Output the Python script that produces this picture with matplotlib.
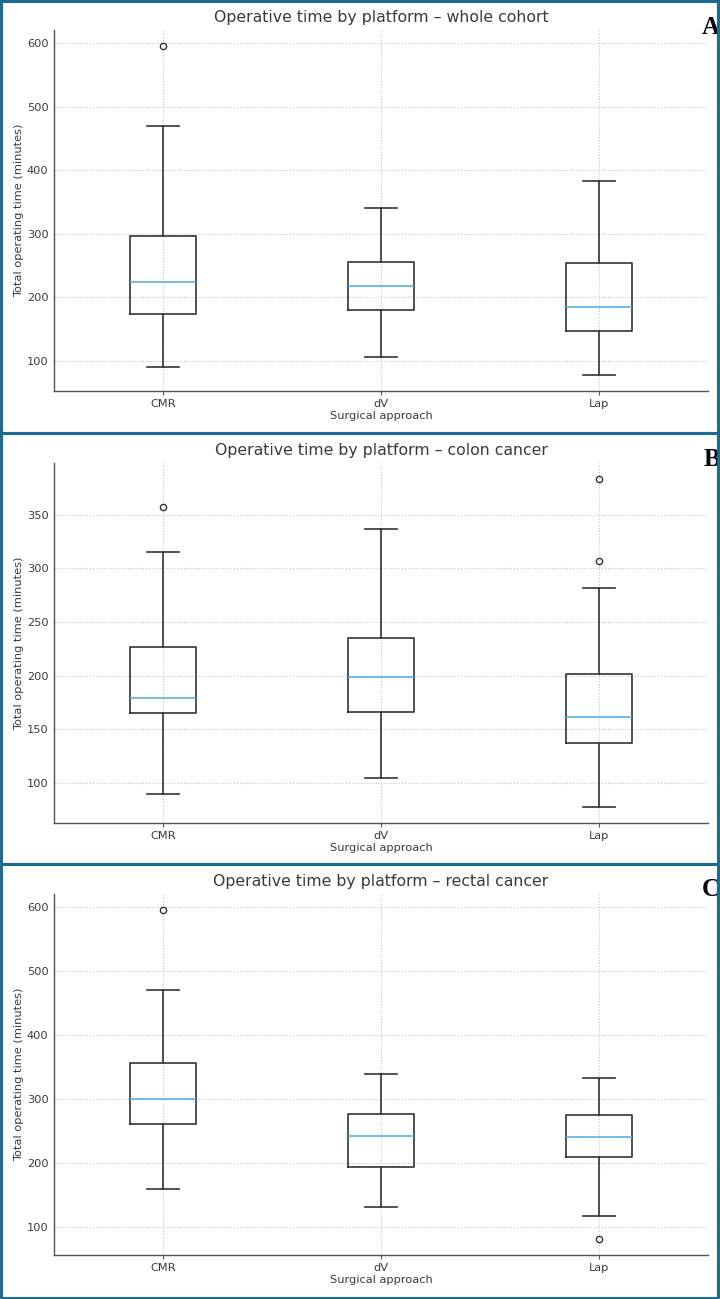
import matplotlib
matplotlib.use("Agg")
import matplotlib.pyplot as plt
from matplotlib.patches import Rectangle

categories = ["CMR", "dV", "Lap"]
panel_titles = ["Operative time by platform – whole cohort",
                "Operative time by platform – colon cancer",
                "Operative time by platform – rectal cancer"]
panel_letters = ["A", "B", "C"]

# five-number summaries per category: [low whisker, Q1, median, Q3, high whisker]
whole_stats = [[90, 174, 224, 296, 470], [105, 180, 217, 256, 340], [78, 147, 185, 254, 383]]
whole_fliers = [[595], [], []]
colon_stats = [[90, 165, 179, 227, 315], [105, 166, 199, 235, 337], [78, 137, 162, 202, 282]]
colon_fliers = [[357], [], [383, 307]]
rectal_stats = [[160, 261, 300, 357, 471], [131, 194, 242, 277, 340], [118, 209, 241, 275, 333]]
rectal_fliers = [[595], [], [82]]

all_stats = [whole_stats, colon_stats, rectal_stats]
all_fliers = [whole_fliers, colon_fliers, rectal_fliers]

W, H = 720, 1299
fig = plt.figure(figsize=(W / 100, H / 100), dpi=100)

text_c = "#3a3a3a"
frame_c = "#1f6a93"
median_c = "#5aaee8"
box_c = "#333333"

# axes boxes in pixels: (left, top, right, bottom)
ax_px = [(54, 30, 708, 391), (54, 463, 708, 823), (54, 894, 708, 1255)]
frames_px = [(1, 1, 717.5, 433), (1, 433, 717.5, 864), (1, 864, 717.5, 1298)]
letter_px = [(720, 27), (720, 459), (720, 889)]

for i in range(3):
    l, t, r, b = ax_px[i]
    ax = fig.add_axes([l / W, 1 - b / H, (r - l) / W, (b - t) / H])
    stats = []
    for s, f, lab in zip(all_stats[i], all_fliers[i], categories):
        stats.append(dict(whislo=s[0], q1=s[1], med=s[2], q3=s[3], whishi=s[4],
                          fliers=f, label=lab))
    ax.bxp(stats, positions=[1, 2, 3], widths=0.3,
           boxprops=dict(color=box_c, linewidth=1.2),
           whiskerprops=dict(color=box_c, linewidth=1.2),
           capprops=dict(color=box_c, linewidth=1.2),
           medianprops=dict(color=median_c, linewidth=1.2),
           flierprops=dict(marker="o", markerfacecolor="none", markeredgecolor=box_c,
                           markersize=4.5, markeredgewidth=1.0))
    ax.set_xlim(0.5, 3.5)
    ax.set_axisbelow(True)
    ax.grid(True, linestyle=":", linewidth=0.8, color="#c4c4c4")
    for sp in ["top", "right"]:
        ax.spines[sp].set_visible(False)
    for sp in ["left", "bottom"]:
        ax.spines[sp].set_color("#555555")
        ax.spines[sp].set_linewidth(1.0)
    ax.tick_params(axis="y", length=0, labelsize=8.2, labelcolor=text_c, pad=4)
    ax.tick_params(axis="x", length=3, labelsize=8.2, labelcolor=text_c, color="#555555", pad=2.5)
    ax.set_title(panel_titles[i], fontsize=11.3, color=text_c, pad=6)
    ax.set_xlabel("Surgical approach", fontsize=8.2, color=text_c, labelpad=1.5)
    ax.set_ylabel("Total operating time (minutes)", fontsize=8.2, color=text_c, labelpad=2)

    fl, ft, fr, fb = frames_px[i]
    fig.add_artist(Rectangle((fl / W, 1 - fb / H), (fr - fl) / W, (fb - ft) / H,
                             transform=fig.transFigure, fill=False,
                             edgecolor=frame_c, linewidth=2.2, zorder=10))
    lx, ly = letter_px[i]
    fig.text(lx / W, 1 - ly / H, panel_letters[i], ha="right", va="center",
             fontsize=18, fontweight="bold", family="Liberation Serif", color="black",
             zorder=5)

fig.savefig("out.png", dpi=100)
